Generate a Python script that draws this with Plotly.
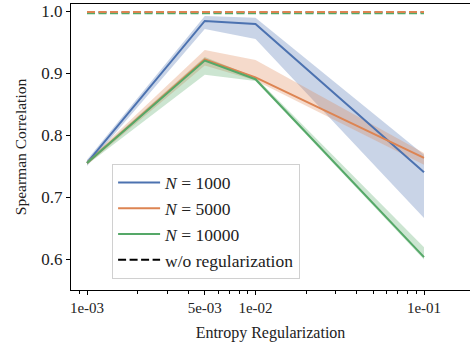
import plotly.graph_objects as go

x_vals = [1e-3, 5e-3, 1e-2, 1e-1]

n1000_mean = [0.755, 0.984, 0.979, 0.740]
n1000_low = [0.750, 0.971, 0.955, 0.666]
n1000_high = [0.760, 0.992, 0.989, 0.768]

n5000_mean = [0.755, 0.922, 0.893, 0.763]
n5000_low = [0.752, 0.912, 0.888, 0.752]
n5000_high = [0.758, 0.937, 0.921, 0.771]

n10000_mean = [0.755, 0.920, 0.890, 0.603]
n10000_low = [0.752, 0.897, 0.887, 0.599]
n10000_high = [0.758, 0.926, 0.893, 0.619]

baseline_x = [1e-3, 1e-1]
baseline_vals = {"N1000": 0.998, "N5000": 0.9985, "N10000": 0.9963}

labels = ["<i>N</i> = 1000", "<i>N</i> = 5000", "<i>N</i> = 10000"]
colors = ["#4C72B0", "#DD8452", "#55A868"]
fills = ["rgba(76,114,176,0.3)", "rgba(221,132,82,0.3)", "rgba(85,168,104,0.3)"]

major_ticks = [1e-3, 5e-3, 1e-2, 1e-1]
major_text = ["1e-03", "5e-03", "1e-02", "1e-01"]
minor_ticks = [8e-4, 9e-4, 2e-3, 3e-3, 4e-3, 6e-3, 7e-3, 8e-3, 9e-3,
               2e-2, 3e-2, 4e-2, 5e-2, 6e-2, 7e-2, 8e-2, 9e-2]
y_ticks = [0.6, 0.7, 0.8, 0.9, 1.0]
y_text = ["0.6", "0.7", "0.8", "0.9", "1.0"]

series = [(n1000_mean, n1000_low, n1000_high),
          (n5000_mean, n5000_low, n5000_high),
          (n10000_mean, n10000_low, n10000_high)]

fig = go.Figure()

for i, (m, lo, hi) in enumerate(series):
    fig.add_trace(go.Scatter(x=x_vals, y=lo, mode="lines", line=dict(width=0),
                             showlegend=False, hoverinfo="skip"))
    fig.add_trace(go.Scatter(x=x_vals, y=hi, mode="lines", line=dict(width=0),
                             fill="tonexty", fillcolor=fills[i],
                             showlegend=False, hoverinfo="skip"))

for key in ["N1000", "N10000", "N5000"]:
    ci = ["N1000", "N5000", "N10000"].index(key)
    fig.add_trace(go.Scatter(x=baseline_x, y=[baseline_vals[key]] * 2, mode="lines",
                             line=dict(color=colors[ci], width=2, dash="8px,3.5px"),
                             showlegend=False))

for i, (m, lo, hi) in enumerate(series):
    fig.add_trace(go.Scatter(x=x_vals, y=m, mode="lines", name=labels[i],
                             line=dict(color=colors[i], width=2),
                             legendgroup=f"g{i}"))

fig.add_trace(go.Scatter(x=[None], y=[None], mode="lines", name="w/o regularization",
                         line=dict(color="black", width=2, dash="8px,3.5px"),
                         legendgroup="g3"))

font_family = "Liberation Serif"

fig.update_layout(
    width=470, height=348,
    margin=dict(l=71, r=0, t=4, b=58),
    plot_bgcolor="white", paper_bgcolor="white",
    font=dict(family=font_family, size=15, color="#222"),
    legend=dict(x=0.103, y=0.442, xanchor="left", yanchor="top",
                bgcolor="white", bordercolor="#d0d0d0", borderwidth=1,
                font=dict(size=17.5, family=font_family), tracegroupgap=0,
                itemwidth=42),
    xaxis=dict(type="log", range=[-3.095, -0.727],
               tickvals=major_ticks, ticktext=major_text,
               ticks="outside", ticklen=4, tickwidth=1, tickcolor="black",
               minor=dict(tickvals=minor_ticks, ticks="outside", ticklen=2.5,
                          tickwidth=1, tickcolor="black", showgrid=False),
               showline=True, linecolor="black", linewidth=1.2, mirror=True,
               showgrid=False, zeroline=False,
               tickfont=dict(size=15),
               title=dict(text="Entropy Regularization", font=dict(size=16), standoff=11)),
    yaxis=dict(range=[0.55, 1.0113],
               tickvals=y_ticks, ticktext=y_text,
               ticks="outside", ticklen=4, tickwidth=1, tickcolor="black",
               showline=True, linecolor="black", linewidth=1.2, mirror=False,
               showgrid=False, zeroline=False,
               tickfont=dict(size=17),
               title=dict(text="Spearman Correlation", font=dict(size=15.5), standoff=10)),
)

fig.write_html("out.html")
